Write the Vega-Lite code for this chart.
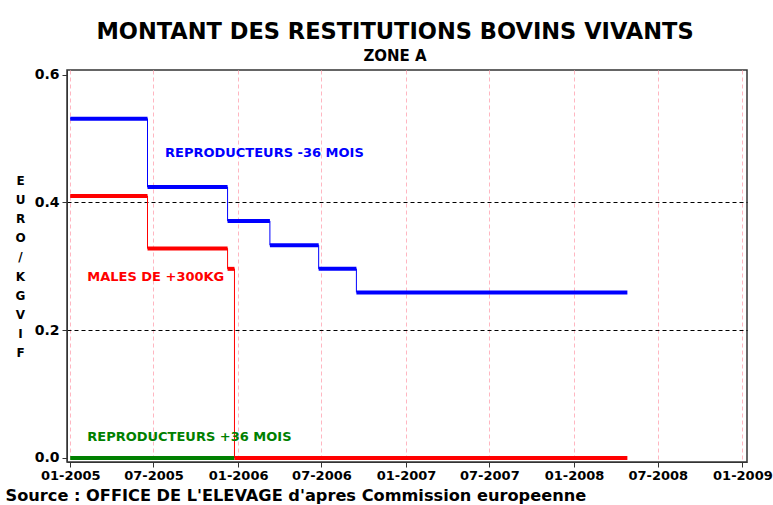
{
  "$schema": "https://vega.github.io/schema/vega-lite/v6.json",
  "width": 680,
  "height": 392,
  "autosize": {"type": "none"},
  "padding": {"left": 67, "top": 70, "right": 26, "bottom": 43},
  "background": "white",
  "title": {
    "text": "MONTANT DES RESTITUTIONS BOVINS VIVANTS",
    "subtitle": "ZONE A",
    "anchor": "middle",
    "dx": -12,
    "offset": 4,
    "font": "DejaVu Sans",
    "fontSize": 22.5,
    "fontWeight": "bold",
    "color": "black",
    "subtitleFont": "DejaVu Sans",
    "subtitleFontSize": 15,
    "subtitleFontWeight": "bold",
    "subtitleColor": "black",
    "subtitlePadding": 5
  },
  "config": {
    "view": {"stroke": "#333333", "strokeWidth": 1.5},
    "font": "DejaVu Sans"
  },
  "datasets": {
    "steps": [
      {"s": "REPRODUCTEURS -36 MOIS", "date": "2005-01-01", "end": "2005-06-18", "v": 0.531},
      {"s": "REPRODUCTEURS -36 MOIS", "date": "2005-06-18", "end": "2005-12-09", "v": 0.424},
      {"s": "REPRODUCTEURS -36 MOIS", "date": "2005-12-09", "end": "2006-03-11", "v": 0.371},
      {"s": "REPRODUCTEURS -36 MOIS", "date": "2006-03-11", "end": "2006-06-25", "v": 0.333},
      {"s": "REPRODUCTEURS -36 MOIS", "date": "2006-06-25", "end": "2006-09-15", "v": 0.296},
      {"s": "REPRODUCTEURS -36 MOIS", "date": "2006-09-15", "end": "2008-04-26", "v": 0.259},
      {"s": "REPRODUCTEURS +36 MOIS", "date": "2005-01-01", "end": "2005-12-24", "v": 0},
      {"s": "MALES DE +300KG", "date": "2005-01-01", "end": "2005-06-18", "v": 0.41},
      {"s": "MALES DE +300KG", "date": "2005-06-18", "end": "2005-12-09", "v": 0.328},
      {"s": "MALES DE +300KG", "date": "2005-12-09", "end": "2005-12-24", "v": 0.296},
      {"s": "MALES DE +300KG", "date": "2005-12-24", "end": "2008-04-26", "v": 0}
    ],
    "labels": [
      {"s": "REPRODUCTEURS -36 MOIS", "date": "2005-07-26", "v": 0.477, "label": "REPRODUCTEURS -36 MOIS"},
      {"s": "MALES DE +300KG", "date": "2005-02-07", "v": 0.284, "label": "MALES DE +300KG"},
      {"s": "REPRODUCTEURS +36 MOIS", "date": "2005-02-07", "v": 0.0324, "label": "REPRODUCTEURS +36 MOIS"}
    ]
  },
  "encoding": {
    "x": {
      "field": "date",
      "type": "temporal",
      "scale": {
        "type": "utc",
        "domain": [
          {"year": 2004, "month": 12, "date": 25, "utc": true},
          {"year": 2009, "month": 1, "date": 11, "utc": true}
        ]
      },
      "axis": {
        "values": [
          {"year": 2005, "month": 1, "date": 1, "utc": true},
          {"year": 2005, "month": 7, "date": 1, "utc": true},
          {"year": 2006, "month": 1, "date": 1, "utc": true},
          {"year": 2006, "month": 7, "date": 1, "utc": true},
          {"year": 2007, "month": 1, "date": 1, "utc": true},
          {"year": 2007, "month": 7, "date": 1, "utc": true},
          {"year": 2008, "month": 1, "date": 1, "utc": true},
          {"year": 2008, "month": 7, "date": 1, "utc": true},
          {"year": 2009, "month": 1, "date": 1, "utc": true}
        ],
        "format": "%m-%Y",
        "labelFontSize": 13,
        "labelFontWeight": "bold",
        "labelColor": "black",
        "labelPadding": 2,
        "labelFlush": false,
        "labelOverlap": false,
        "tickSize": 5,
        "tickColor": "#333333",
        "domainColor": "#333333",
        "grid": true,
        "gridColor": "#ffb6c1",
        "gridDash": [4, 3],
        "gridWidth": 1,
        "title": "Source : OFFICE DE L'ELEVAGE d'apres Commission europeenne",
        "titleX": -62,
        "titleY": 38,
        "titleAlign": "left",
        "titleAnchor": "start",
        "titleBaseline": "alphabetic",
        "titleFontSize": 16.2,
        "titleFontWeight": "bold",
        "titleColor": "black"
      }
    },
    "y": {
      "field": "v",
      "type": "quantitative",
      "scale": {"domain": [-0.0063, 0.6072], "nice": false, "zero": false},
      "axis": {
        "values": [0, 0.2, 0.4, 0.6],
        "format": ".1f",
        "labelFontSize": 14,
        "labelFontWeight": "bold",
        "labelColor": "black",
        "labelPadding": 3,
        "tickSize": 5,
        "tickColor": "#333333",
        "domainColor": "#333333",
        "grid": true,
        "gridColor": "black",
        "gridDash": [4, 3],
        "gridWidth": 1,
        "gridOpacity": {"condition": {"test": "datum.value < 0.1 || datum.value > 0.5", "value": 0}, "value": 1},
        "title": ["E", "U", "R", "O", "/", "K", "G", "V", "I", "F"],
        "titleAngle": 0,
        "titleX": -47,
        "titleY": 110,
        "titleAlign": "center",
        "titleBaseline": "middle",
        "titleLineHeight": 19.2,
        "titleFontSize": 12,
        "titleFontWeight": "bold",
        "titleColor": "black"
      }
    },
    "color": {
      "field": "s",
      "type": "nominal",
      "scale": {
        "domain": ["REPRODUCTEURS -36 MOIS", "MALES DE +300KG", "REPRODUCTEURS +36 MOIS"],
        "range": ["#0000ff", "#ff0000", "#008000"]
      },
      "legend": null
    }
  },
  "layer": [
    {
      "data": {"name": "steps"},
      "mark": {"type": "line", "interpolate": "step-after", "strokeWidth": 1}
    },
    {
      "data": {"name": "steps"},
      "mark": {"type": "rule", "strokeWidth": 4},
      "encoding": {"x2": {"field": "end"}}
    },
    {
      "data": {"name": "labels"},
      "mark": {"type": "text", "align": "left", "baseline": "middle", "fontSize": 13, "fontWeight": "bold"},
      "encoding": {"text": {"field": "label"}}
    }
  ]
}
